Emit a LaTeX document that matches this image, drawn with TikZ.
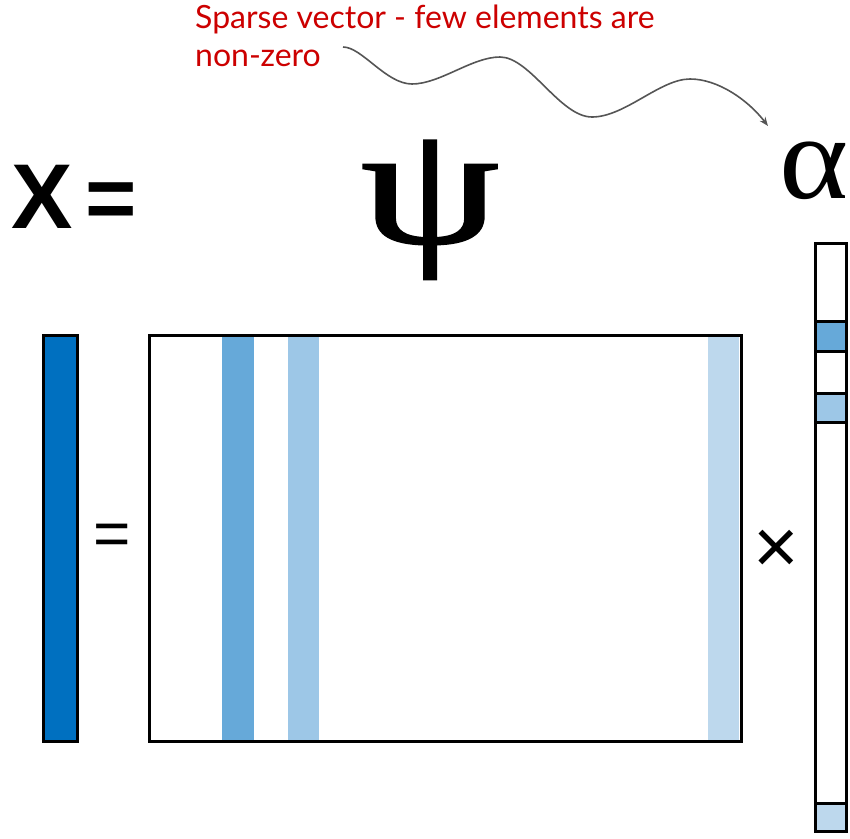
\documentclass[tikz,border=0pt]{standalone}
\usepackage{fontspec}
\setmainfont{Liberation Serif}
\newfontfamily\latofont{Lato}
\newfontfamily\arialfont{Liberation Sans}
\newfontfamily\psifont[FakeBold=1.2]{Liberation Serif}
\usetikzlibrary{arrows.meta}
\definecolor{barblue}{HTML}{0070C0}
\definecolor{colA}{HTML}{66A9D9}
\definecolor{colB}{HTML}{9DC7E7}
\definecolor{colC}{HTML}{BDD8ED}
\definecolor{notered}{HTML}{CC0000}
\definecolor{curvegray}{HTML}{555555}
\begin{document}
\begin{tikzpicture}[x=1pt,y=-1pt,
  outline/.style={draw=black, line width=3pt, inner sep=0pt, anchor=north west},
  stripe/.style={inner sep=0pt, anchor=north west, minimum height=406pt},
  cell/.style={draw=black, line width=3pt, inner sep=0pt, anchor=north west, minimum width=31pt},
  note/.style={text=notered, font=\latofont\fontsize{32}{38}\selectfont, align=left, anchor=north west, inner sep=0pt},
  bigsym/.style={inner sep=0pt}
]
\useasboundingbox (0,0) rectangle (850,838);

% red note
\node[note] (note) at (195,5) {Sparse vector - few elements are\\non-zero};

% big labels
\node[bigsym, font=\arialfont\bfseries\fontsize{92}{92}\selectfont, anchor=base west] (xlab) at (11,228) {X};
\node[bigsym, font=\arialfont\bfseries\fontsize{88}{88}\selectfont, anchor=base west] (eqlab) at (85,228) {=};
\node[bigsym, font=\psifont\fontsize{158}{158}\selectfont, anchor=base, xscale=1.4, yscale=1.08] (psi) at (430,243) {ψ};
\node[bigsym, font=\fontsize{120}{120}\selectfont, anchor=base, xscale=1.1] (alph) at (814,198) {α};

% left vector x
\node[outline, fill=barblue, minimum width=34pt, minimum height=406pt] (xvec) at (42,334) {};

% equals and times
\node[bigsym, font=\arialfont\fontsize{64}{64}\selectfont] (eqsign) at (112,540) {=};
\node[bigsym, font=\arialfont\fontsize{78}{78}\selectfont] (times) at (776,552) {×};

% matrix Psi
\node[stripe, fill=colA, minimum width=32pt] (c1) at (222,334) {};
\node[stripe, fill=colB, minimum width=31pt] (c2) at (288,334) {};
\node[stripe, fill=colC, minimum width=31pt] (c3) at (708,334) {};
\node[outline, minimum width=592pt, minimum height=406pt] (psimat) at (148,334) {};

% alpha vector
\node[cell, minimum height=78pt] (a0) at (814,242) {};
\node[cell, fill=colA, minimum height=30pt] (a1) at (814,320) {};
\node[cell, minimum height=42pt] (a2) at (814,350) {};
\node[cell, fill=colB, minimum height=29pt] (a3) at (814,392) {};
\node[cell, minimum height=381pt] (a4) at (814,421) {};
\node[cell, fill=colC, minimum height=28pt] (a5) at (814,802) {};

% wavy arrow
\coordinate (cstart) at (343,47);
\coordinate (ctip) at (768,126);
\draw[curvegray, line width=1.6pt, -{Stealth[length=9pt,width=7pt]}]
  (cstart) .. controls (362,47) and (386,84) .. (412,84)
  .. controls (440,84) and (472,57) .. (500,57)
  .. controls (530,57) and (560,117) .. (592,117)
  .. controls (625,117) and (660,79) .. (690,79)
  .. controls (718,79) and (748,100) .. (ctip);
\end{tikzpicture}
\end{document}
